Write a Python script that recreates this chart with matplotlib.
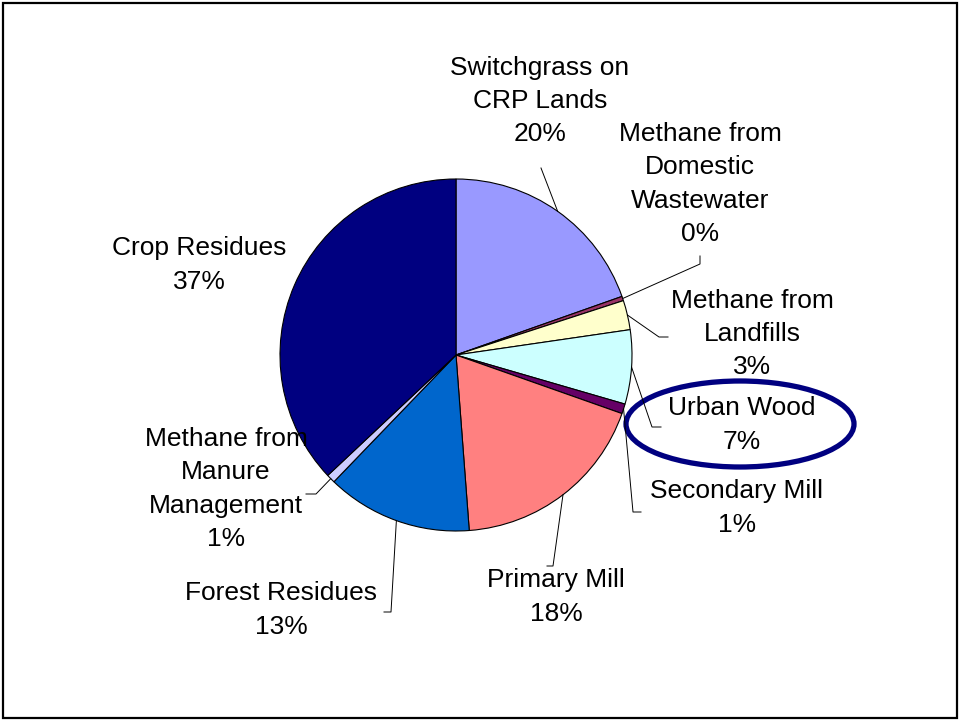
import matplotlib.pyplot as plt
import numpy as np
from matplotlib.patches import Ellipse, Rectangle

# slice shares (percent), clockwise from 12 o'clock
names = [
    "Switchgrass on\nCRP Lands",
    "Methane from\nDomestic\nWastewater",
    "Methane from\nLandfills",
    "Urban Wood",
    "Secondary Mill",
    "Primary Mill",
    "Forest Residues",
    "Methane from\nManure\nManagement",
    "Crop Residues",
]
shares = [19.6, 0.4, 2.7, 6.8, 0.9, 18.4, 13.4, 0.8, 37.0]
colors = ["#9999FF", "#993366", "#FFFFCC", "#CCFFFF", "#660066",
          "#FF8080", "#0066CC", "#CCCCFF", "#000080"]

W, H = 960, 721
cx, cy, R = 456, H - 355, 176

# label centres (pixel coords, y from top) and leader elbows
label_pos = [(540, 101), (700, 184), (752, 334), (742, 425), (737, 508),
             (556, 597), (281, 610), (226, 489), (199, 265)]
leaders = [
    [(541, 168)],
    [(700, 264), (700, 256)],
    [(659, 337), (668, 337)],
    [(652, 427), (661, 427)],
    [(633, 512), (641, 512)],
    [(553, 566), (547, 566)],
    [(391, 612), (384, 612)],
    [(316, 494), (306, 494)],
    None,
]

plt.rcParams["font.family"] = ["Liberation Sans", "DejaVu Sans"]

fig = plt.figure(figsize=(W / 100, H / 100), dpi=100)
ax = fig.add_axes([0, 0, 1, 1])

wedges, _ = ax.pie(shares, colors=colors, startangle=90, counterclock=False,
                   center=(cx, cy), radius=R, frame=True,
                   wedgeprops=dict(edgecolor="black", linewidth=0.8))
ax.set_xlim(0, W)
ax.set_ylim(0, H)
ax.set_aspect("equal")
ax.axis("off")

for w, name, val, (lx, ly), pts in zip(wedges, names, shares, label_pos, leaders):
    ax.text(lx, H - ly, f"{name}\n{round(val)}%", ha="center", va="center",
            fontsize=19, linespacing=1.48, color="black")
    if pts is None:
        continue
    mid = np.deg2rad((w.theta1 + w.theta2) / 2)
    xs = [cx + R * np.cos(mid)] + [p[0] for p in pts]
    ys = [cy + R * np.sin(mid)] + [H - p[1] for p in pts]
    ax.plot(xs, ys, color="black", lw=0.7)

ax.add_patch(Ellipse((740, H - 424), 228, 86, fill=False,
                     edgecolor="#000080", lw=3.8))
ax.add_patch(Rectangle((3, 3), W - 6, H - 6, fill=False,
                       edgecolor="black", lw=1.6, clip_on=False))

fig.savefig("out.png", dpi=100)
